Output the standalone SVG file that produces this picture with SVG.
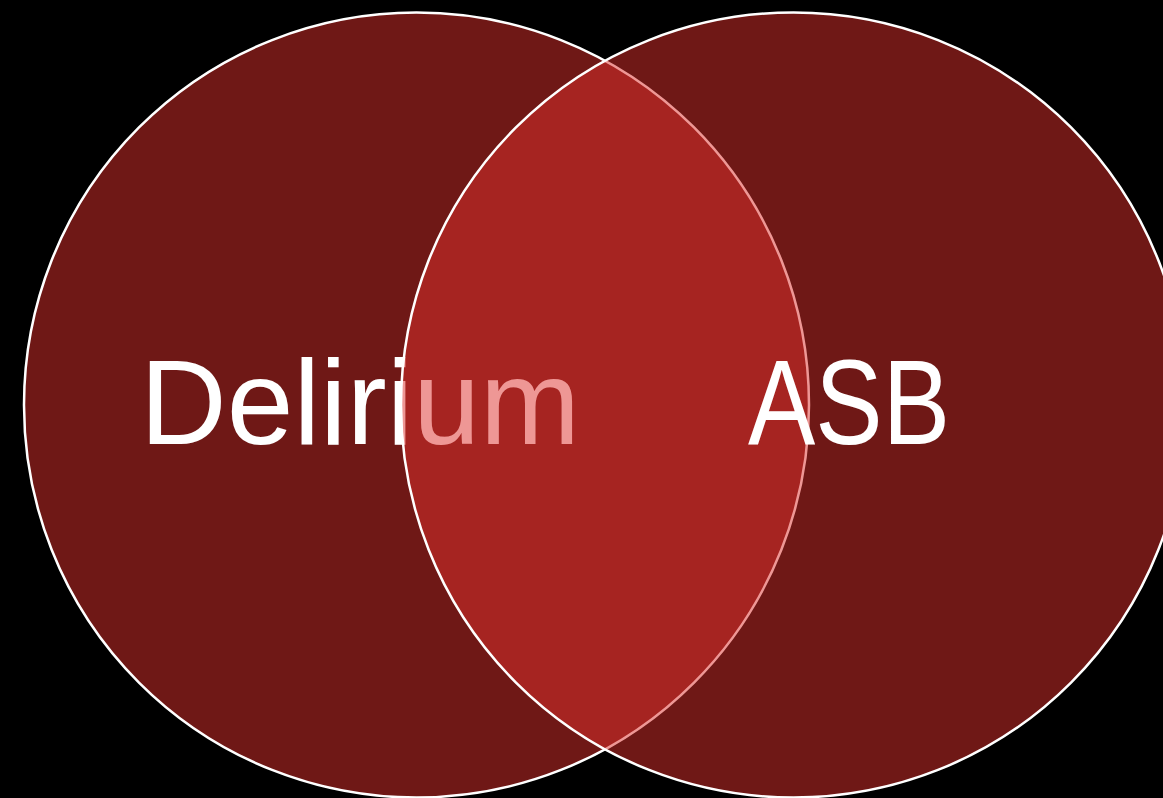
<svg xmlns="http://www.w3.org/2000/svg" width="1163" height="798" viewBox="0 0 1163 798">
<style>
.c{fill:#DE302C;fill-opacity:0.5;stroke:#FFFFFF;stroke-width:2.5}
.t{fill:#FFFFFF;font-family:"Liberation Sans",Arial,sans-serif;font-size:120px}
</style>
<rect x="0" y="0" width="1163" height="798" fill="#000000"/>
<g id="delirium">
<circle class="c" cx="416.5" cy="405" r="392.5"/>
<text class="t" x="140" y="444" textLength="440" lengthAdjust="spacingAndGlyphs">Delirium</text>
</g>
<g id="asb">
<circle class="c" cx="793.5" cy="405" r="392.5"/>
<text class="t" x="748" y="444" textLength="202" lengthAdjust="spacingAndGlyphs">ASB</text>
</g>
<g id="connectors"/>
</svg>
